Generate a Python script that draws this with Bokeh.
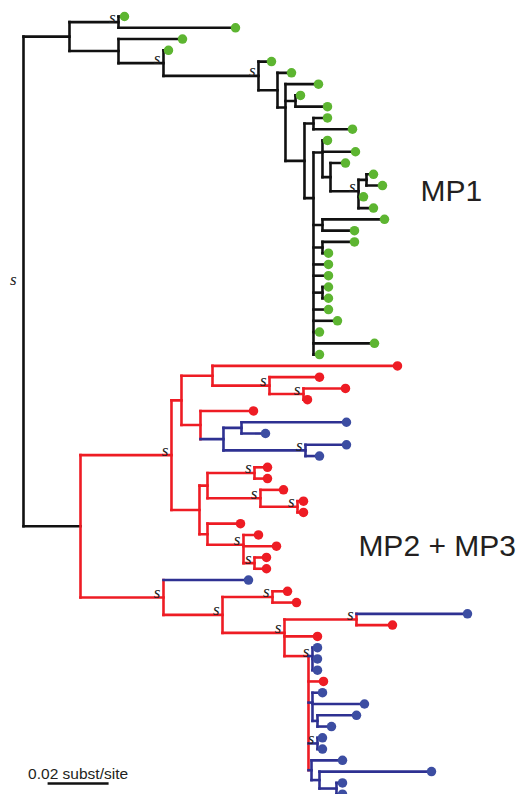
from bokeh.plotting import figure
from bokeh.models import Range1d
from bokeh.embed import file_html
from bokeh.resources import INLINE
from bokeh.core.properties import value

# ---------------- tree data (pre-order; children listed top to bottom) -------------
node_name = [
    "R", "A", "B", "l00", "l01", "C", "l02", "D", "l03", "E", "l04", "F", "l05", "G", "l06",
    "I", "l07", "l08", "K", "L", "l09", "l10", "C1", "N", "l11", "l12", "N2", "l13", "O", "P",
    "l14", "l15", "l16", "l17", "C1a", "l18", "l19", "C1b", "l20", "l21", "l22", "l23", "C1c",
    "l24", "l25", "l26", "l27", "l28", "l29", "l30",
    "M", "M2", "U", "W", "l31", "W2", "l32", "W3", "l33", "l34", "X", "l35", "Y", "Y1", "l36",
    "l37", "Y2", "l38", "l39", "V", "V1", "V1a", "l40", "l41", "V1b", "l42", "V1c", "l43", "l44",
    "V2", "l45", "V2b", "l46", "l47", "V2c", "l48", "l49",
    "M3", "l50", "Z", "Z1", "l51", "l52", "Z2", "Z3", "l53", "l54", "l55", "Z4", "B1", "l56",
    "l57", "l58", "l59", "B2", "l60", "l61", "B2a", "l62", "l63", "B3", "l64", "l65", "BA",
    "l66", "BB", "l67", "BC", "l68", "l69",
]
node_parent = [
    None, "R", "A", "B", "B", "A", "C", "C", "D", "D", "E", "E", "F", "F", "G",
    "G", "I", "I", "G", "K", "L", "L", "K", "C1", "N", "N", "N", "N2", "N2", "O",
    "P", "P", "O", "O", "C1", "C1a", "C1a", "C1", "C1b", "C1b", "C1", "C1", "C1",
    "C1c", "C1c", "C1", "C1", "C1", "C1", "C1",
    "R", "M", "M2", "U", "W", "W", "W2", "W2", "W3", "W3", "U", "X", "X", "Y", "Y1",
    "Y1", "Y", "Y2", "Y2", "M2", "V", "V1", "V1a", "V1a", "V1", "V1b", "V1b", "V1c", "V1c",
    "V", "V2", "V2", "V2b", "V2b", "V2b", "V2c", "V2c",
    "M", "M3", "M3", "Z", "Z1", "Z1", "Z", "Z2", "Z3", "Z3", "Z2", "Z2", "Z4", "B1",
    "B1", "B1", "Z4", "Z4", "B2", "B2", "B2", "B2a", "B2a", "Z4", "B3", "B3", "Z4",
    "BA", "BA", "BB", "BB", "BC", "BC",
]
# distance from the root, subst/site
node_depth = [
    0.0, 0.01508, 0.03115, 0.03311, 0.06951, 0.03115, 0.05213, 0.04590, 0.04754, 0.07705,
    0.08131, 0.08328, 0.08787, 0.08590, 0.09672, 0.08918, 0.09082, 0.09967, 0.09213, 0.09508,
    0.09967, 0.10787, 0.09508, 0.09803, 0.09967, 0.10885, 0.10066, 0.10557, 0.10984, 0.11246,
    0.11475, 0.11770, 0.11148, 0.11475, 0.09803, 0.11836, 0.10852, 0.09803, 0.10852, 0.10000,
    0.10000, 0.10000, 0.09803, 0.10000, 0.10000, 0.10000, 0.10295, 0.09705, 0.11508, 0.09705,
    0.01869, 0.04852, 0.05180, 0.06197, 0.12262, 0.08066, 0.09705, 0.09180, 0.10557, 0.09311,
    0.05803, 0.07541, 0.06557, 0.07148, 0.10590, 0.07934, 0.09246, 0.10590, 0.09705, 0.05770,
    0.06033, 0.07574, 0.08000, 0.08000, 0.07770, 0.08525, 0.08984, 0.09180, 0.09180, 0.06033,
    0.07115, 0.07213, 0.07705, 0.08295, 0.07574, 0.07967, 0.07967,
    0.04590, 0.07377, 0.06525, 0.08164, 0.08656, 0.08951, 0.08557, 0.10918, 0.14557, 0.12098,
    0.09639, 0.09344, 0.09475, 0.09639, 0.09639, 0.09639, 0.09836, 0.09475, 0.09803, 0.11180,
    0.09639, 0.10918, 0.10098, 0.09639, 0.09803, 0.09803, 0.09443, 0.10459, 0.09705, 0.13377,
    0.10262, 0.10459, 0.10459,
]
mp3_nodes = ["Y", "Y1", "l36", "l37", "Y2", "l38", "l39", "l50", "l53", "B1", "l56", "l57",
             "l58", "B2", "l60", "l61", "B2a", "l62", "l63", "B3", "l64", "l65", "BA", "l66",
             "BB", "l67", "BC", "l68", "l69"]
mp23_root = "M"
top_anchored = ["Z4"]          # comb drawn hanging from its first child
support_nodes = ["R", "B", "D", "E", "O", "M2", "W2", "W3", "Y2", "V1a", "V1b", "V1c", "V2b",
                 "V2c", "M3", "Z", "Z1", "Z2", "Z3", "B1", "B3"]
clade_labels = ["MP1", "MP2 + MP3"]
scale_length = 0.02
scale_text = "0.02 subst/site"

# ---------------- derived tree geometry -------------
depth = dict(zip(node_name, node_depth))
parent = dict(zip(node_name, node_parent))
children = {n: [] for n in node_name}
for n, par in zip(node_name, node_parent):
    if par is not None:
        children[par].append(n)
leaves = [n for n in node_name if not children[n]]
leaf_index = {n: i for i, n in enumerate(leaves)}

ypos = {}
def compute_y(n):
    if not children[n]:
        ypos[n] = float(leaf_index[n])
        return ypos[n]
    ys = [compute_y(c) for c in children[n]]
    if n in top_anchored:
        y = ys[0]
    else:
        y = ys[-1]
        for v in reversed(ys[:-1]):
            y = (v + y) / 2.0
    ypos[n] = y
    return y
compute_y("R")

def in_subtree(n, root):
    while n is not None:
        if n == root:
            return True
        n = parent[n]
    return False

def clade(n):
    if n in mp3_nodes:
        return "MP3"
    if in_subtree(n, mp23_root):
        return "MP2"
    return "MP1"

LINE = {"MP1": "#111111", "MP2": "#ee1c24", "MP3": "#2e3192"}
DOT = {"MP1": "#5db531", "MP2": "#ee1c24", "MP3": "#3c4da2"}

seg = dict(x0=[], y0=[], x1=[], y1=[], c=[])
for n in node_name:
    par = parent[n]
    if par is not None:
        col = LINE["MP1"] if par == "R" else LINE[clade(n)]
        seg["x0"].append(depth[par]); seg["x1"].append(depth[n])
        seg["y0"].append(ypos[n]); seg["y1"].append(ypos[n]); seg["c"].append(col)
    if children[n]:
        seg["x0"].append(depth[n]); seg["x1"].append(depth[n])
        seg["y0"].append(ypos[children[n][0]]); seg["y1"].append(ypos[children[n][-1]])
        seg["c"].append(LINE[clade(n)] if n != "R" else LINE["MP1"])

# ---------------- figure -------------
p = figure(width=522, height=794, x_range=Range1d(-0.00754, 0.16361),
           y_range=Range1d(69.03, -1.42), output_backend="svg", toolbar_location=None,
           x_axis_type=None, y_axis_type=None, min_border=0)
p.grid.visible = False
p.outline_line_color = None
p.background_fill_color = "white"

p.segment(x0=seg["x0"], y0=seg["y0"], x1=seg["x1"], y1=seg["y1"], line_color=seg["c"],
          line_width=2.6, line_cap="square")

lx = [depth[n] for n in leaves]
ly = [ypos[n] for n in leaves]
lc = [DOT[clade(n)] for n in leaves]
p.scatter(lx, ly, size=9.5, fill_color=lc, line_color=None)

inner = [n for n in support_nodes if parent[n] is not None]
rootlike = [n for n in support_nodes if parent[n] is None]
p.text([depth[n] for n in inner], [ypos[n] for n in inner], text=["s"] * len(inner),
       text_font=value("Liberation Serif"), text_font_style="italic", text_font_size="17px",
       text_align="right", text_baseline="alphabetic", x_offset=-3, y_offset=-5,
       text_color="#222222")
p.text([depth[n] for n in rootlike], [ypos[n] for n in rootlike], text=["s"] * len(rootlike),
       text_font=value("Liberation Serif"), text_font_style="italic", text_font_size="17px",
       text_align="right", text_baseline="middle", x_offset=-7, y_offset=-2,
       text_color="#222222")

# clade labels
p.text([0.1302, 0.1098], [15.44, 46.94], text=clade_labels, text_font=value("Liberation Sans"),
       text_font_size="30px", text_align="left", text_baseline="middle", text_color="#231f20")

# scale bar
sb_x0 = 0.0079
sb_y = 68.06
p.segment(x0=[sb_x0], y0=[sb_y], x1=[sb_x0 + scale_length], y1=[sb_y], line_color="#111111",
          line_width=2.6)
p.text([sb_x0 + scale_length / 2], [67.17], text=[scale_text], text_font=value("Liberation Sans"),
       text_font_size="15.5px", text_align="center", text_baseline="alphabetic",
       text_color="#231f20")

open("out.html", "w").write(file_html(p, INLINE))
